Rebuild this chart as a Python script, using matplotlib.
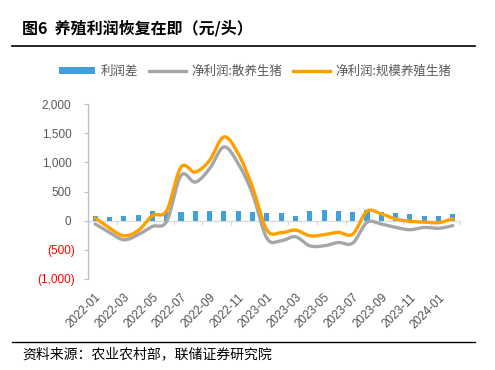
import numpy as np
import matplotlib
matplotlib.use("Agg")
import matplotlib.pyplot as plt
from matplotlib.transforms import ScaledTranslation
from matplotlib.patches import Patch
from matplotlib.lines import Line2D

plt.rcParams['font.family'] = ['Liberation Sans', 'Noto Sans CJK SC', 'DejaVu Sans']

# ---------------- data ----------------
months = ["2022-01", "2022-02", "2022-03", "2022-04", "2022-05", "2022-06", "2022-07",
          "2022-08", "2022-09", "2022-10", "2022-11", "2022-12", "2023-01", "2023-02",
          "2023-03", "2023-04", "2023-05", "2023-06", "2023-07", "2023-08", "2023-09",
          "2023-10", "2023-11", "2023-12", "2024-01", "2024-02"]
profit_gap = [80, 58, 75, 92, 167, 155, 144, 161, 172, 172, 172, 155, 135, 124,
              86, 167, 190, 167, 155, 184, 155, 127, 121, 80, 80, 121]
backyard = [-57, -201, -328, -241, -98, -10, 776, 661, 891, 1264, 977, 460, -300, -345,
            -276, -431, -431, -374, -385, -29, -57, -115, -155, -115, -132, -86]
scale = [46, -126, -259, -172, 86, 172, 919, 833, 1034, 1436, 1149, 574, -160, -207,
         -161, -259, -241, -201, -230, 161, 115, 29, -11, -23, -34, 34]
y_ticks = [-1000, -500, 0, 500, 1000, 1500, 2000]
y_ticklabels = ["(1,000)", "(500)", "0", "500", "1,000", "1,500", "2,000"]

title = "图6  养殖利润恢复在即（元/头）"
legend_labels = ["利润差", "净利润:散养生猪", "净利润:规模养殖生猪"]
source = "资料来源：农业农村部，联储证券研究院"

c_bar = "#41A0DC"
c_gray = "#A6A6A6"
c_orange = "#FFA000"


def smooth(x, y, n=12):
    x = np.asarray(x, float)
    y = np.asarray(y, float)
    px = np.concatenate([[2 * x[0] - x[1]], x, [2 * x[-1] - x[-2]]])
    py = np.concatenate([[2 * y[0] - y[1]], y, [2 * y[-1] - y[-2]]])
    xs, ys = [], []
    t = np.linspace(0, 1, n, endpoint=False)
    for i in range(1, len(px) - 2):
        p0x, p1x, p2x, p3x = px[i - 1:i + 3]
        p0y, p1y, p2y, p3y = py[i - 1:i + 3]
        bx = 0.5 * ((2 * p1x) + (-p0x + p2x) * t + (2 * p0x - 5 * p1x + 4 * p2x - p3x) * t ** 2
                    + (-p0x + 3 * p1x - 3 * p2x + p3x) * t ** 3)
        by = 0.5 * ((2 * p1y) + (-p0y + p2y) * t + (2 * p0y - 5 * p1y + 4 * p2y - p3y) * t ** 2
                    + (-p0y + 3 * p1y - 3 * p2y + p3y) * t ** 3)
        xs.extend(bx)
        ys.extend(by)
    xs.append(x[-1])
    ys.append(y[-1])
    return np.array(xs), np.array(ys)


fig = plt.figure(figsize=(4.95, 3.7), dpi=100)
ax = fig.add_axes([88 / 495, 1 - 279 / 370, (460 - 88) / 495, (279 - 104) / 370])

x = np.arange(len(months))
ax.bar(x, profit_gap, width=0.36, color=c_bar, zorder=2)
gx, gy = smooth(x, backyard)
ox, oy = smooth(x, scale)
ax.plot(gx, gy, color=c_gray, lw=2.4, zorder=3, solid_capstyle='round')
ax.plot(ox, oy, color=c_orange, lw=2.4, zorder=4, solid_capstyle='round')

ax.set_xlim(-0.5, len(months) - 0.5)
ax.set_ylim(-1000, 2000)

for s in ['top', 'right', 'bottom']:
    ax.spines[s].set_visible(False)
ax.spines['left'].set_color('#BFBFBF')
ax.spines['left'].set_linewidth(0.9)

ax.set_yticks(y_ticks)
ax.set_yticklabels(y_ticklabels)
ax.tick_params(axis='y', length=3, width=0.9, color='#BFBFBF', pad=9, labelsize=8.5)
for lab, v in zip(ax.get_yticklabels(), y_ticks):
    if v < 0:
        lab.set_color('#FF0000')
        lab.set_transform(lab.get_transform() + ScaledTranslation(4 / 100, 0, fig.dpi_scale_trans))
    else:
        lab.set_color('#595959')

ax.set_xticks(x[::2])
ax.set_xticklabels(months[::2], rotation=45, ha='right', va='top', rotation_mode='anchor',
                   fontsize=8.5, color='#505050')
ax.tick_params(axis='x', length=0, pad=9)

# zero line axis with category-boundary ticks
sec = ax.secondary_xaxis(1 / 3)
sec.spines['bottom'].set_color('#D9D9D9')
sec.spines['bottom'].set_linewidth(0.9)
sec.set_xticks(np.arange(-0.5, len(months), 2))
sec.set_xticklabels([])
sec.tick_params(axis='x', length=3, width=0.9, color='#D9D9D9', direction='out')

# legend
handles = [Patch(facecolor=c_bar, edgecolor='none'),
           Line2D([], [], color=c_gray, lw=2.4),
           Line2D([], [], color=c_orange, lw=2.4)]
leg = fig.legend(handles, legend_labels, loc='center', bbox_to_anchor=(255 / 495, 1 - 71 / 370),
                 ncol=3, frameon=False, handlelength=2.9, handleheight=0.5, columnspacing=0.9,
                 handletextpad=0.45, prop={'family': ['Noto Sans CJK SC'], 'size': 9})
for t in leg.get_texts():
    t.set_color('#595959')

# title and source
fig.text(22 / 495, 1 - 28 / 370, title, fontsize=11.5, fontweight='bold',
         family=['Noto Sans CJK SC', 'DejaVu Sans'], va='center', ha='left', color='#000000')
fig.add_artist(Line2D([12 / 495, 475 / 495], [1 - 46 / 370] * 2, color='black', lw=1.2))
fig.add_artist(Line2D([12 / 495, 475 / 495], [1 - 342 / 370] * 2, color='black', lw=1.0))
fig.text(22 / 495, 1 - 354 / 370, source, fontsize=10,
         family=['Noto Sans CJK SC', 'DejaVu Sans'], va='center', ha='left', color='#000000')

fig.savefig("out.png", dpi=100)
